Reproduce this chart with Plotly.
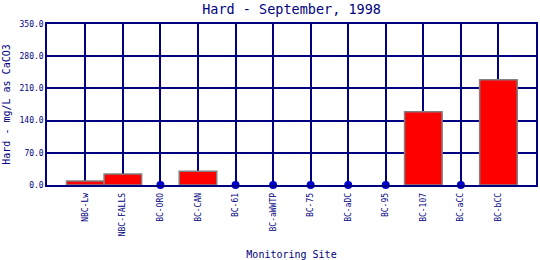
import plotly.graph_objects as go

sites = ["NBC-Lw", "NBC-FALLS", "BC-ORO", "BC-CAN", "BC-61", "BC-aWWTP",
         "BC-75", "BC-aDC", "BC-95", "BC-107", "BC-aCC", "BC-bCC"]
hardness = [8.5, 24, 0, 30, 0, 0, 0, 0, 0, 159, 0, 229]
y_ticks = [0, 70, 140, 210, 280, 350]

NAVY = "#000080"
FONT = "DejaVu Sans Mono"

xi = list(range(len(sites)))
bar_y = [v if v > 0 else None for v in hardness]
dot_x = [i for i, v in zip(xi, hardness) if v == 0]
dot_y = [v for v in hardness if v == 0]

fig = go.Figure()
fig.add_trace(go.Bar(x=xi, y=bar_y, width=1.0,
                     marker=dict(color="#FF0000", line=dict(color="#808080", width=1.5))))
fig.add_trace(go.Scatter(x=dot_x, y=dot_y, mode="markers", cliponaxis=False,
                         marker=dict(color="#0000CC", size=8)))

fig.update_layout(
    width=540, height=260,
    margin=dict(l=47, r=4, t=24, b=75),
    paper_bgcolor="white", plot_bgcolor="white",
    showlegend=False,
    title=dict(text="Hard - September, 1998", x=0.54, xanchor="center", y=0.965, yanchor="middle",
               font=dict(family=FONT, size=13.5, color=NAVY)),
    font=dict(family=FONT, color=NAVY),
)
fig.update_xaxes(
    automargin=False,
    tickmode="array", tickvals=xi, ticktext=sites, tickangle=-90,
    range=[-1.02, 12.0], showgrid=True, gridcolor=NAVY, gridwidth=1.5,
    showline=True, linecolor=NAVY, linewidth=1.5, mirror=True,
    ticks="", tickfont=dict(family=FONT, size=8, color=NAVY), ticklabelstandoff=3,
    title=dict(text="Monitoring Site", font=dict(family=FONT, size=10, color=NAVY), standoff=18),
    zeroline=False,
)
fig.update_yaxes(
    automargin=False,
    tickmode="array", tickvals=y_ticks, ticktext=[f"{v:.1f}" for v in y_ticks],
    range=[0, 350], showgrid=True, gridcolor=NAVY, gridwidth=1.5,
    showline=True, linecolor=NAVY, linewidth=1.5, mirror=True,
    ticks="", tickfont=dict(family=FONT, size=8, color=NAVY),
    title=dict(text="Hard - mg/L as CaCO3", font=dict(family=FONT, size=10, color=NAVY), standoff=7),
    zeroline=False,
)
fig.write_html("out.html")
